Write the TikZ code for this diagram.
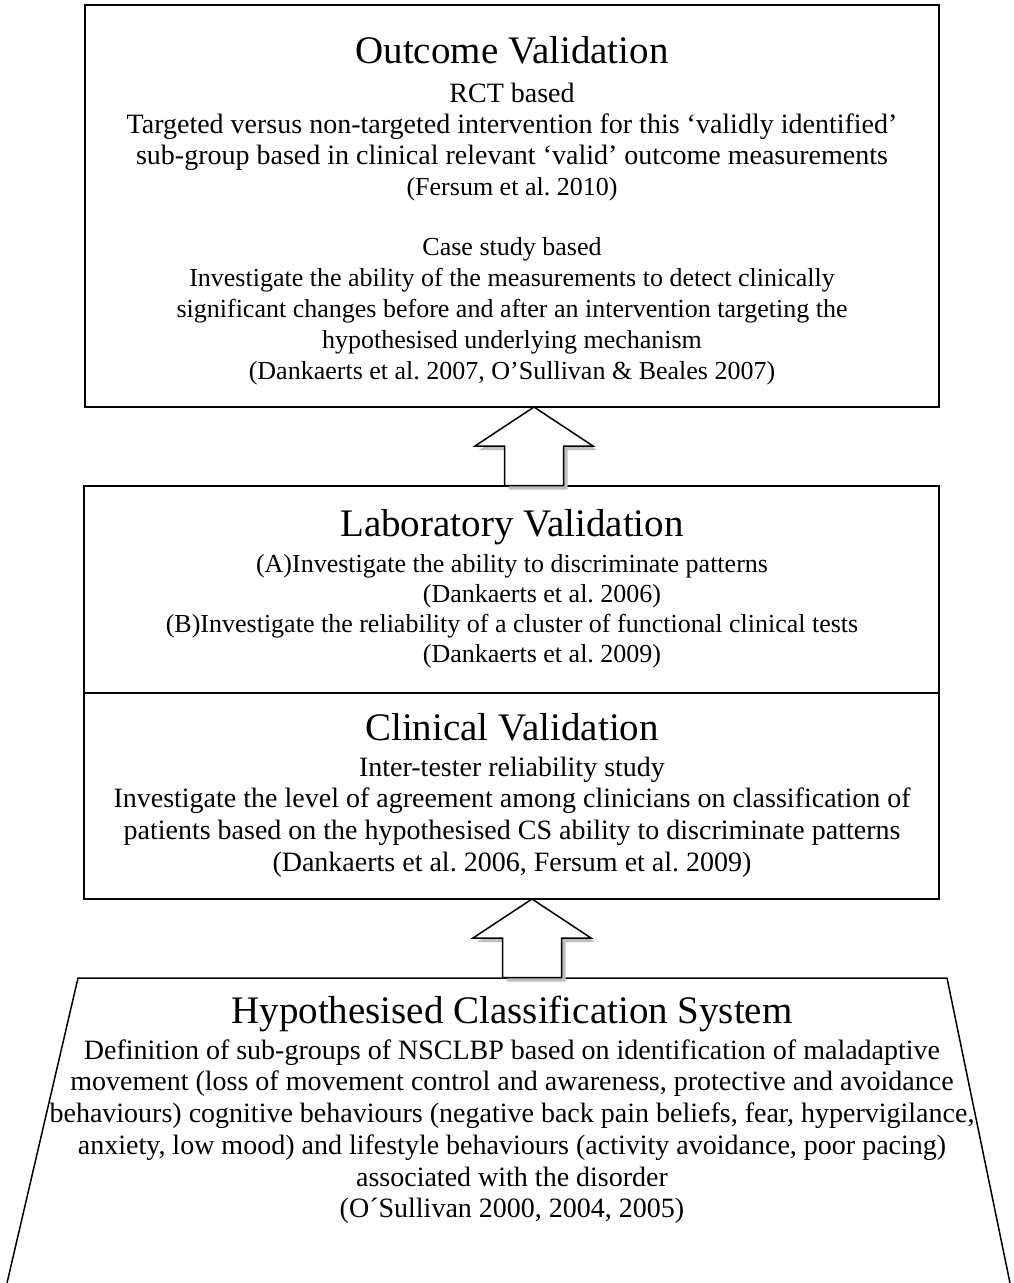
\documentclass[tikz,border=0pt]{standalone}
\usepackage{fontspec}
\setmainfont{Liberation Serif}
\usetikzlibrary{calc}
\begin{document}
\frenchspacing
\begin{tikzpicture}[x=1pt,y=-1pt,
  box/.style={draw=black, line width=1.5pt, fill=white, inner sep=0pt, outer sep=0pt},
  ttl/.style={anchor=base, inner sep=0pt, font=\fontsize{39}{45}\selectfont},
  txt/.style={anchor=base, inner sep=0pt, font=\fontsize{26}{31}\selectfont},
  txtl/.style={anchor=base, inner sep=0pt, font=\fontsize{28}{32}\selectfont},
  blockarrow/.style={draw=black, line width=1.5pt, fill=white, line join=miter},
  arrowshadow/.style={fill=black!25, draw=none}]
\useasboundingbox (0,0) rectangle (1014,1283);
\fill[white] (0,0) rectangle (1014,1283);

% boxes
\node[box, anchor=north west, minimum width=854pt, minimum height=402pt] (outcome) at (85,5) {};
\node[box, anchor=north west, minimum width=855pt, minimum height=207pt] (lab) at (84,486) {};
\node[box, anchor=north west, minimum width=855pt, minimum height=206pt] (clinical) at (84,693) {};
\draw[line width=2.6pt] (lab.south west) -- (lab.south east);

% trapezoid
\coordinate (hbl) at (7,1283);
\coordinate (htl) at (78,978);
\coordinate (htr) at (947,978);
\coordinate (hbr) at (1010,1283);
\draw[line width=1.5pt, fill=white, line join=miter] (hbl) -- (htl) -- (htr) -- (hbr);

% block arrows
\coordinate (tip1) at ($(outcome.south)+(22,0)$);
\coordinate (tip2) at ($(clinical.south)+(20.5,0)$);
\foreach \t in {tip1,tip2}{
  \fill[arrowshadow] ($(\t)+(4,4)$) -- ++(59,39) -- ++(-29.5,0) -- ++(0,39.5) -- ++(-59,0) -- ++(0,-39.5) -- ++(-29.5,0) -- cycle;
  \draw[blockarrow] (\t) -- ++(59,39) -- ++(-29.5,0) -- ++(0,39.5) -- ++(-59,0) -- ++(0,-39.5) -- ++(-29.5,0) -- cycle;
}

% outcome text
\node[ttl] (o0) at (512,63) {Outcome Validation};
\node[txtl] (o1) at (512,102) {RCT based};
\node[txtl] (o2) at (512,133) {Targeted versus non-targeted intervention for this ‘validly identified’};
\node[txtl] (o3) at (512,164) {sub-group based in clinical relevant ‘valid’ outcome measurements};
\node[txt] (o4) at (512,195) {(Fersum et al. 2010)};
\node[txt] (o5) at (512,255) {Case study based};
\node[txt] (o6) at (512,286) {Investigate the ability of the measurements to detect clinically};
\node[txt] (o7) at (512,317) {significant changes before and after an intervention targeting the};
\node[txt] (o8) at (512,348) {hypothesised underlying mechanism};
\node[txt] (o9) at (512,379) {(Dankaerts et al. 2007, O’Sullivan \& Beales 2007)};

% laboratory text
\node[ttl] (l0) at (512,536) {Laboratory Validation};
\node[txt] (l1) at (512,572) {(A)Investigate the ability to discriminate patterns};
\node[txt] (l2) at (542,602) {(Dankaerts et al. 2006)};
\node[txt] (l3) at (512,632) {(B)Investigate the reliability of a cluster of functional clinical tests};
\node[txt] (l4) at (542,662) {(Dankaerts et al. 2009)};

% clinical text
\node[ttl] (c0) at (512,740) {Clinical Validation};
\node[txtl] (c1) at (512,776) {Inter-tester reliability study};
\node[txtl] (c2) at (512,807) {Investigate the level of agreement among clinicians on classification of};
\node[txtl] (c3) at (512,839) {patients based on the hypothesised CS ability to discriminate patterns};
\node[txtl] (c4) at (512,871) {(Dankaerts et al. 2006, Fersum et al. 2009)};

% hypothesised text
\node[ttl] (h0) at (512,1023) {Hypothesised Classification System};
\node[txtl] (h1) at (512,1059) {Definition of sub-groups of NSCLBP based on identification of maladaptive};
\node[txtl] (h2) at (512,1090) {movement (loss of movement control and awareness, protective and avoidance};
\node[txtl] (h3) at (512,1122) {behaviours) cognitive behaviours (negative back pain beliefs, fear, hypervigilance,};
\node[txtl] (h4) at (512,1154) {anxiety, low mood) and lifestyle behaviours (activity avoidance, poor pacing)};
\node[txtl] (h5) at (512,1186) {associated with the disorder};
\node[txtl] (h6) at (512,1217) {(O´Sullivan 2000, 2004, 2005)};
\end{tikzpicture}
\end{document}
